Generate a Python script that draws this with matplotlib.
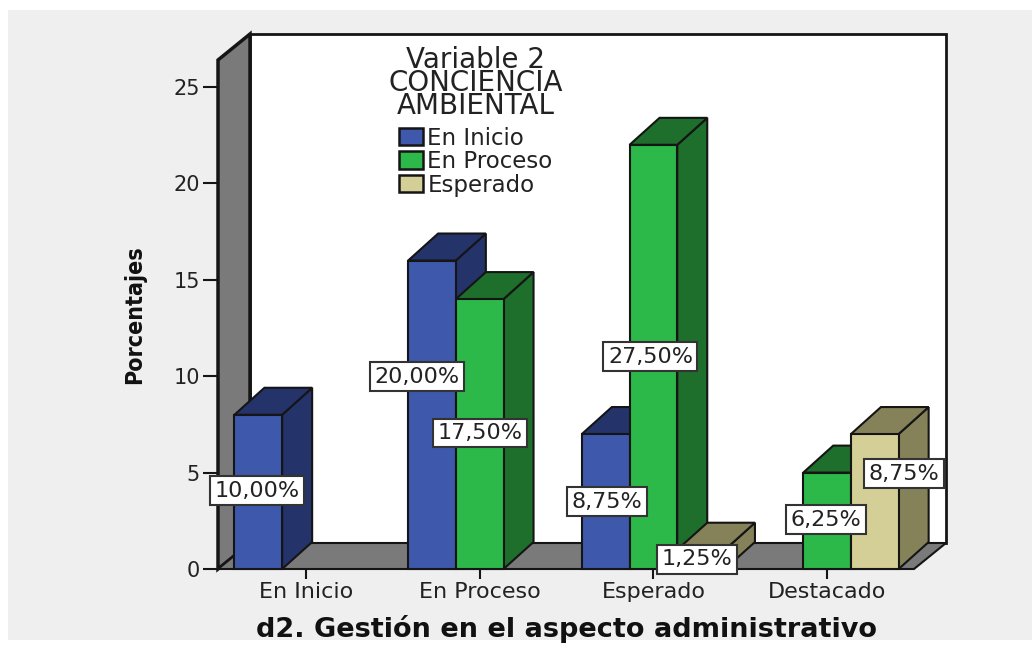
import matplotlib
matplotlib.use('Agg')
import matplotlib.pyplot as plt
from matplotlib.patches import Rectangle

plt.rcParams['font.family'] = ['DejaVu Sans']

categories = ['En Inicio', 'En Proceso', 'Esperado', 'Destacado']
series_names = ['En Inicio', 'En Proceso', 'Esperado']
en_inicio = [8, 16, 7, 0]
en_proceso = [0, 14, 22, 5]
esperado = [0, 0, 1, 7]
labels_inicio = ['10,00%', '20,00%', '8,75%', '']
labels_proceso = ['', '17,50%', '27,50%', '6,25%']
labels_esperado = ['', '', '1,25%', '8,75%']
yticks = [0, 5, 10, 15, 20, 25]

# nudges of the value boxes from the middle of the bar, in pixels
nudge_inicio = [(-1, 1), (-15, 38), (1, 0), (0, 0)]
nudge_proceso = [(0, 0), (0, 1), (-3, 0), (-1, 1)]
nudge_esperado = [(0, 0), (0, 0), (-4, 0), (29, 28)]

front = ['#3e58ac', '#2db84a', '#d4cf96']
dark = ['#24346a', '#1e6e2c', '#85825a']
wall = '#7a7a7a'
line = '#151515'

W, H = 1032, 645
fig = plt.figure(figsize=(W / 100, H / 100), dpi=100, facecolor='white')
fig.patches.append(Rectangle((8 / W, 5 / H), 1 - 8 / W, 630 / H, transform=fig.transFigure,
                             facecolor='#efefef', edgecolor='none', zorder=-5))

# floor front edge runs 218..914 px, y=0 at 569 px, 19.28 px per unit
ax = fig.add_axes([218 / W, (H - 569) / H, 696 / W, 509 / H])
ax.patch.set_visible(False)
px_x = 173.7
px_y = 19.28
ax.set_xlim((218 - 306) / px_x, (914 - 306) / px_x)
ax.set_ylim(0, 509 / px_y)

wx = 32 / px_x
wy = 26 / px_y
x0, x1 = ax.get_xlim()
y1 = ax.get_ylim()[1]
kw = dict(clip_on=False, edgecolor=line)
ax.fill([x0 + wx, x1 + wx, x1 + wx, x0 + wx], [wy, wy, y1 + wy, y1 + wy],
        facecolor='white', linewidth=2, zorder=1, **kw)
ax.fill([x0, x0 + wx, x0 + wx, x0], [0, wy, y1 + wy, y1], facecolor=wall, linewidth=2.5, zorder=2, **kw)
ax.fill([x0, x1, x1 + wx, x0 + wx], [0, 0, wy, wy], facecolor=wall, linewidth=1.5, zorder=2, **kw)

bw = 47.7 / px_x
dx = 30 / px_x
dy = 27 / px_y
all_values = [en_inicio, en_proceso, esperado]
all_labels = [labels_inicio, labels_proceso, labels_esperado]
all_nudges = [nudge_inicio, nudge_proceso, nudge_esperado]

z = 3
for c in range(len(categories)):
    for s in range(3):
        v = all_values[s][c]
        if v == 0:
            continue
        x = c + (s - 1) * bw
        l = x - bw / 2
        r = x + bw / 2
        ax.fill([r, r + dx, r + dx, r], [0, dy, v + dy, v], facecolor=dark[s], linewidth=1.5, zorder=z, **kw)
        ax.fill([l, r, r + dx, l + dx], [v, v, v + dy, v + dy], facecolor=dark[s], linewidth=1.5, zorder=z, **kw)
        ax.bar(x, v, bw, color=front[s], edgecolor=line, linewidth=1.5, zorder=z, clip_on=False)
        z += 1

for c in range(len(categories)):
    for s in range(3):
        if all_labels[s][c] == '':
            continue
        x = c + (s - 1) * bw
        n = all_nudges[s][c]
        ax.annotate(all_labels[s][c], (x, all_values[s][c] / 2), xytext=(n[0] * 0.72, n[1] * 0.72),
                    textcoords='offset points', ha='center', va='center', fontsize=16,
                    color='#222222', zorder=50,
                    bbox=dict(boxstyle='square,pad=0.2', facecolor='white', edgecolor='#333333', linewidth=1.5))

ax.set_xticks(range(len(categories)))
ax.set_xticklabels(categories, fontsize=16, color='#222222')
ax.set_yticks(yticks)
ax.set_yticklabels([str(t) for t in yticks], fontsize=15, color='#222222')
ax.tick_params(axis='x', length=7.5, width=1.5, pad=2, color=line)
ax.tick_params(axis='y', length=11, width=1.5, pad=2, color=line)
for name in ['top', 'right', 'left', 'bottom']:
    ax.spines[name].set_visible(False)

fig.text(566.5 / W, (H - 629) / H, 'd2. Gestión en el aspecto administrativo',
         ha='center', va='center', fontsize=19.5, fontweight='bold', color='#111111')
fig.text(135 / W, (H - 315) / H, 'Porcentajes', rotation=90, ha='center', va='center',
         fontsize=16.7, fontweight='bold', color='#111111', fontstretch='condensed')

handles = [Rectangle((0, 0), 1, 1, facecolor=front[i], edgecolor=line, linewidth=1.8) for i in range(3)]
leg = fig.legend(handles, series_names, title='Variable 2\nCONCIENCIA\nAMBIENTAL', frameon=False,
                 loc='upper left', bbox_to_anchor=(377 / W, (H - 35) / H), fontsize=16.5,
                 title_fontsize=20, handlelength=1.05, handleheight=0.8, handletextpad=0.2,
                 labelspacing=0.02, borderpad=0, labelcolor='#222222', alignment='center')
leg.get_title().set_color('#222222')
leg.get_title().set_linespacing(0.77)
leg.get_title().set_ha('center')
leg._legend_box.sep = 4.5
leg.set_zorder(40)

fig.savefig('out.png', dpi=100, facecolor=fig.get_facecolor())
